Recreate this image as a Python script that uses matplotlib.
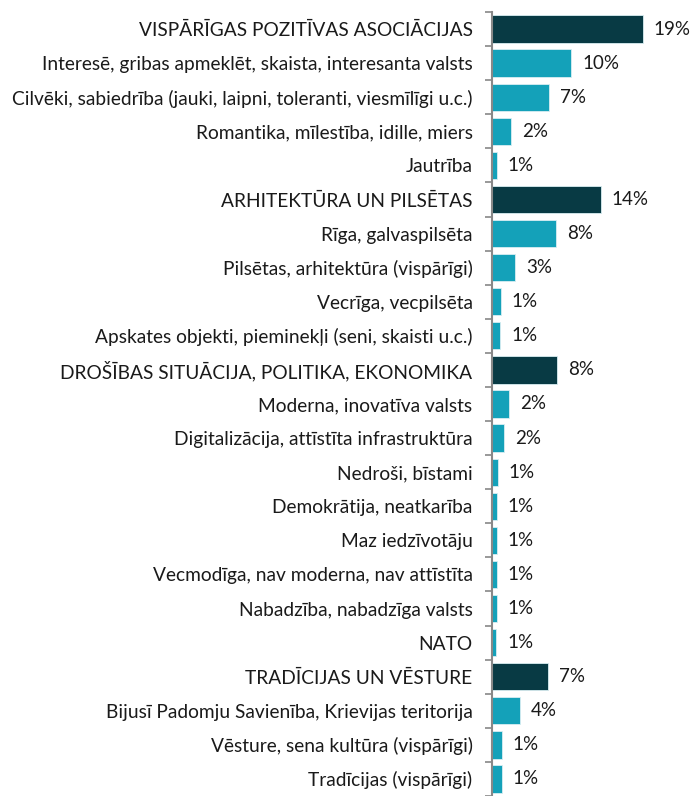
import matplotlib.pyplot as plt
import numpy as np

# データ
labels = [
    "VISPĀRĪGAS POZITĪVAS ASOCIĀCIJAS",
    "Interesē, gribas apmeklēt, skaista, interesanta valsts",
    "Cilvēki, sabiedrība (jauki, laipni, toleranti, viesmīlīgi u.c.)",
    "Romantika, mīlestība, idille, miers",
    "Jautrība",
    "ARHITEKTŪRA UN PILSĒTAS",
    "Rīga, galvaspilsēta",
    "Pilsētas, arhitektūra (vispārīgi)",
    "Vecrīga, vecpilsēta",
    "Apskates objekti, pieminekļi (seni, skaisti u.c.)",
    "DROŠĪBAS SITUĀCIJA, POLITIKA, EKONOMIKA",
    "Moderna, inovatīva valsts",
    "Digitalizācija, attīstīta infrastruktūra",
    "Nedroši, bīstami",
    "Demokrātija, neatkarība",
    "Maz iedzīvotāju",
    "Vecmodīga, nav moderna, nav attīstīta",
    "Nabadzība, nabadzīga valsts",
    "NATO",
    "TRADĪCIJAS UN VĒSTURE",
    "Bijusī Padomju Savienība, Krievijas teritorija",
    "Vēsture, sena kultūra (vispārīgi)",
    "Tradīcijas (vispārīgi)",
]
values = [19.0, 10.0, 7.2, 2.4, 0.6, 13.7, 8.1, 2.9, 1.1, 1.0, 8.2, 2.2, 1.5,
          0.7, 0.6, 0.6, 0.6, 0.6, 0.5, 7.1, 3.5, 1.2, 1.2]
value_labels = ["19%", "10%", "7%", "2%", "1%", "14%", "8%", "3%", "1%", "1%",
                "8%", "2%", "2%", "1%", "1%", "1%", "1%", "1%", "1%", "7%",
                "4%", "1%", "1%"]
is_group = [True, False, False, False, False, True, False, False, False, False,
            True, False, False, False, False, False, False, False, False, True,
            False, False, False]

plt.rcParams["font.family"] = ["Lato", "DejaVu Sans"]

dark = "#083a44"
teal = "#14a1b9"

fig = plt.figure(figsize=(6.91, 7.96), dpi=100)
ax = fig.add_axes([492 / 691, 0, 199 / 691, 784 / 796])

n = len(labels)
y = np.arange(n)
colors = [dark if g else teal for g in is_group]
ax.barh(y, values, height=0.8, color=colors, edgecolor="#d8eef2", linewidth=0.6)

for yi, v, t in zip(y, values, value_labels):
    ax.text(v + 1.4, yi, t, va="center", ha="left", fontsize=13.5, color="#1a1a1a")

ax.set_ylim(n - 0.5, -0.5)
ax.set_xlim(0, 25.1)
ax.set_yticks(y)
ax.set_yticklabels(labels, fontsize=13.8, color="#1a1a1a")
ax.set_yticks(np.arange(n + 1) - 0.5, minor=True)
ax.tick_params(axis="y", which="major", length=0, pad=14)
ax.tick_params(axis="y", which="minor", length=5, width=1.2, color="#888888", direction="out")
ax.set_xticks([])
for s in ["top", "right", "bottom"]:
    ax.spines[s].set_visible(False)
ax.spines["left"].set_color("#888888")
ax.spines["left"].set_linewidth(1.5)

fig.savefig("out.png", dpi=100)
